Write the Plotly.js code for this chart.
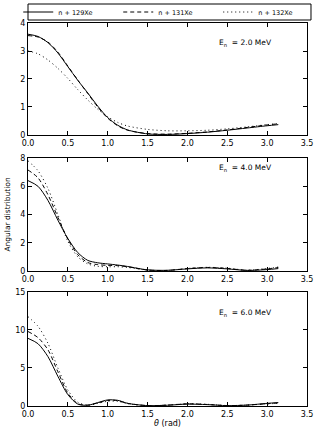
<!DOCTYPE html>
<html>
<head>
<meta charset="utf-8">
<script src="https://cdn.plot.ly/plotly-3.0.1.min.js"></script>
<style>html,body{margin:0;padding:0;background:#fff;}#chart{width:318px;height:431px;}</style>
</head>
<body>
<div id="chart"></div>
<script>
const theta = [0, 0.125, 0.25, 0.375, 0.5, 0.625, 0.75, 0.875, 1.0, 1.125, 1.25, 1.5, 1.75, 2.0, 2.25, 2.5, 2.75, 3.0, 3.14];
const seriesNames = ["n + 129Xe", "n + 131Xe", "n + 132Xe"];
const energies = ["2.0", "4.0", "6.0"];

const xe129_E2 = [3.60, 3.52, 3.30, 2.93, 2.44, 1.95, 1.50, 1.03, 0.62, 0.35, 0.18, 0.04, 0.02, 0.05, 0.10, 0.17, 0.25, 0.33, 0.37];
const xe131_E2 = [3.55, 3.50, 3.32, 2.96, 2.46, 1.96, 1.48, 1.00, 0.60, 0.33, 0.17, 0.05, 0.03, 0.06, 0.11, 0.18, 0.27, 0.36, 0.40];
const xe132_E2 = [3.00, 2.90, 2.68, 2.38, 2.02, 1.62, 1.25, 0.92, 0.65, 0.45, 0.32, 0.20, 0.15, 0.15, 0.17, 0.22, 0.29, 0.37, 0.41];

const xe129_E4 = [6.40, 6.00, 5.00, 3.60, 2.30, 1.30, 0.75, 0.58, 0.50, 0.42, 0.32, 0.08, 0.05, 0.15, 0.22, 0.15, 0.04, 0.10, 0.17];
const xe131_E4 = [7.15, 6.60, 5.40, 3.80, 2.25, 1.15, 0.60, 0.45, 0.40, 0.38, 0.30, 0.07, 0.04, 0.17, 0.25, 0.18, 0.05, 0.15, 0.25];
const xe132_E4 = [7.80, 7.10, 5.85, 4.00, 2.10, 1.00, 0.50, 0.33, 0.30, 0.30, 0.25, 0.06, 0.04, 0.18, 0.26, 0.20, 0.06, 0.18, 0.28];

const xe129_E6 = [8.90, 8.20, 6.50, 3.90, 1.50, 0.25, 0.10, 0.45, 0.80, 0.75, 0.35, 0.05, 0.10, 0.25, 0.18, 0.05, 0.12, 0.35, 0.45];
const xe131_E6 = [9.80, 9.00, 7.40, 4.50, 1.70, 0.30, 0.12, 0.40, 0.72, 0.70, 0.35, 0.05, 0.12, 0.28, 0.20, 0.05, 0.12, 0.30, 0.40];
const xe132_E6 = [11.75, 10.50, 8.25, 5.00, 2.10, 0.50, 0.10, 0.35, 0.62, 0.62, 0.30, 0.05, 0.12, 0.30, 0.22, 0.06, 0.12, 0.28, 0.35];

const yTickVals1 = [0, 1, 2, 3, 4];
const yTickVals2 = [0, 2, 4, 6, 8];
const yTickVals3 = [0, 5, 10, 15];
const xTickVals = [0, 0.5, 1.0, 1.5, 2.0, 2.5, 3.0, 3.5];
const xTickText = ["0.0", "0.5", "1.0", "1.5", "2.0", "2.5", "3.0", "3.5"];

const panels = [
  [xe129_E2, xe131_E2, xe132_E2],
  [xe129_E4, xe131_E4, xe132_E4],
  [xe129_E6, xe131_E6, xe132_E6]
];
const dashes = ["solid", "4px,3px", "1px,3px"];
const traces = [];
panels.forEach((p, i) => {
  p.forEach((ys, j) => {
    traces.push({
      x: theta, y: ys, type: "scatter", mode: "lines",
      name: seriesNames[j], showlegend: i === 0,
      xaxis: i === 0 ? "x" : "x" + (i + 1),
      yaxis: i === 0 ? "y" : "y" + (i + 1),
      line: {color: "#000", width: 1, dash: dashes[j], shape: "spline", smoothing: 0.8}
    });
  });
});

const FONT = "DejaVu Sans, sans-serif";
function xax(anchor) {
  return {anchor: anchor, range: [0, 3.5], tickvals: xTickVals, ticktext: xTickText,
    showline: true, mirror: "ticks", linecolor: "#000", linewidth: 1,
    ticks: "inside", ticklen: 4, tickcolor: "#000", showgrid: false, zeroline: false,
    tickfont: {family: FONT, size: 8, color: "#000"}};
}
function yax(anchor, domain, range, tv) {
  return {anchor: anchor, domain: domain, range: range, tickvals: tv,
    showline: true, mirror: "ticks", linecolor: "#000", linewidth: 1,
    ticks: "inside", ticklen: 4, tickcolor: "#000", showgrid: false, zeroline: false,
    tickfont: {family: FONT, size: 8, color: "#000"}};
}
const x3 = xax("y3");
x3.title = {text: "<i>θ</i> (rad)", font: {family: FONT, size: 8, color: "#000"}, standoff: 2};

const annY = [3.29, 7.3, 12.2];
const annotations = energies.map((e, i) => ({
  xref: i === 0 ? "x" : "x" + (i + 1), yref: i === 0 ? "y" : "y" + (i + 1),
  x: 2.37, y: annY[i], xanchor: "left", yanchor: "middle", showarrow: false,
  text: "E<sub>n</sub>  = " + e + " MeV", font: {family: FONT, size: 7.5, color: "#000"}
}));
annotations.push({xref: "paper", yref: "paper", x: -0.075, y: 0.5, xanchor: "center", yanchor: "middle",
  textangle: -90, showarrow: false, text: "Angular distribution", font: {family: FONT, size: 7.5, color: "#000"}});

const layout = {
  width: 318, height: 431,
  margin: {l: 28, r: 11, t: 23, b: 25, autoexpand: false},
  paper_bgcolor: "#fff", plot_bgcolor: "#fff",
  font: {family: FONT, size: 8, color: "#000"},
  xaxis: xax("y"), xaxis2: xax("y2"), xaxis3: x3,
  yaxis: yax("x", [0.7076, 1], [0, 4], yTickVals1),
  yaxis2: yax("x2", [0.3525, 0.6475], [0, 8], yTickVals2),
  yaxis3: yax("x3", [0, 0.2977], [0, 15], yTickVals3),
  showlegend: true,
  legend: {orientation: "h", x: -0.035, xanchor: "left", y: 1.0287, yanchor: "middle",
    borderwidth: 0, bgcolor: "rgba(0,0,0,0)",
    entrywidth: 55, entrywidthmode: "pixels", itemwidth: 30, tracegroupgap: 0,
    font: {family: FONT, size: 6.5, color: "#000"}},
  shapes: [{type: "rect", xref: "paper", yref: "paper", x0: 0, x1: 1.0143, y0: 1.0078, y1: 1.0496,
    line: {color: "#000", width: 1}, fillcolor: "rgba(0,0,0,0)", layer: "below"}],
  annotations: annotations
};
Plotly.newPlot("chart", traces, layout, {staticPlot: true, displayModeBar: false});
</script>
</body>
</html>
